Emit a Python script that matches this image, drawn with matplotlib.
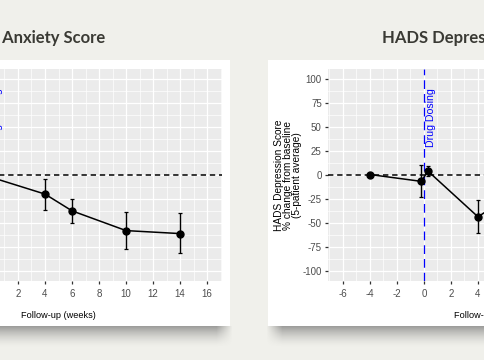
import numpy as np
import matplotlib
matplotlib.use("Agg")
import matplotlib.pyplot as plt
from matplotlib.patches import Rectangle
from matplotlib.ticker import MultipleLocator

plt.rcParams["axes.unicode_minus"] = False

# data (points outside the crop are estimates)
weeks = [-4, -0.2, 0.3, 4, 6, 10, 14]
anx_mean = [0.0, -2.0, -3.6, -19.8, -37.2, -57.7, -60.8]
anx_low = [-2.0, -12.0, -8.0, -36.5, -49.4, -76.4, -80.9]
anx_high = [2.0, 8.0, 1.0, -3.9, -24.7, -38.9, -39.6]

dep_mean = [0.5, -6.6, 4.0, -43.4, -25.0, -30.0, -35.0]
dep_low = [-1.5, -22.6, -1.0, -60.1, -40.0, -45.0, -50.0]
dep_high = [2.0, 10.7, 9.5, -26.4, -10.0, -15.0, -20.0]

x_ticks = [-6, -4, -2, 0, 2, 4, 6, 8, 10, 12, 14, 16]
y_ticks = [-100, -75, -50, -25, 0, 25, 50, 75, 100]

W, H = 485, 360
BG = "#f0f0eb"
FONT = "Liberation Sans"
fig = plt.figure(figsize=(W / 100, H / 100), dpi=100)
fig.patch.set_facecolor(BG)

# slide background, cards and shadows (pixel coords)
bg = fig.add_axes([0, 0, 1, 1], zorder=-5)
bg.axis("off")


def shadow(x0, x1, top):
    n = 22
    t = np.linspace(0, 1, n)
    v = 0.55 * (1 - t) ** 1.6
    xs = np.arange(int(x0), int(x1))
    h = np.clip(np.minimum(xs - x0, x1 - xs) / 16.0, 0, 1)
    img = np.zeros((n, len(xs), 4))
    img[..., 0:3] = 0.35
    img[..., 3] = v[:, None] * h[None, :]
    bg.imshow(img, extent=(x0, x1, top + n, top), aspect="auto",
              interpolation="bilinear", zorder=1)


shadow(-160, 232, 326)
shadow(266, 700, 326)
bg.add_patch(Rectangle((-170, 60), 400, 266, facecolor="white", edgecolor="none", zorder=2))
bg.add_patch(Rectangle((268, 60), 432, 266, facecolor="white", edgecolor="none", zorder=2))
bg.set_xlim(0, W)
bg.set_ylim(H, 0)

fig.text(105 / W, 1 - 38 / H, "HADS Anxiety Score", ha="right", va="center",
         fontsize=12, fontweight="bold", family="Lato", color="#3a3a34")
fig.text(382 / W, 1 - 38 / H, "HADS Depression Score", ha="left", va="center",
         fontsize=12, fontweight="bold", family="Lato", color="#3a3a34")


def panel(left_px, mean, low, high, ylabel):
    ax = fig.add_axes([left_px / W, (H - 281) / H, 327 / W, 212 / H])
    ax.set_facecolor("#ebebeb")
    ax.set_xlim(-7.1, 17.1)
    ax.set_ylim(-110, 110)
    ax.set_xticks(x_ticks)
    ax.set_yticks(y_ticks)
    ax.xaxis.set_minor_locator(MultipleLocator(1))
    ax.yaxis.set_minor_locator(MultipleLocator(12.5))
    ax.grid(which="major", color="white", lw=0.9)
    ax.grid(which="minor", color="white", lw=0.5)
    ax.set_axisbelow(True)
    for s in ax.spines.values():
        s.set_visible(False)
    ax.tick_params(which="major", length=2.5, width=0.9, color="#333333",
                   labelsize=7, labelcolor="#4d4d4d")
    ax.tick_params(axis="y", pad=2)
    ax.tick_params(axis="x", pad=3)
    ax.tick_params(which="minor", length=0)
    for lab in ax.get_xticklabels() + ax.get_yticklabels():
        lab.set_family(FONT)
    ax.axhline(0, color="black", lw=1.1, ls=(0, (3.5, 2.5)), zorder=2)
    ax.axvline(0, color="#0000ff", lw=0.9, ls=(0, (7, 4)), zorder=2)
    ax.text(0.55, 60, "Drug Dosing", rotation=90, ha="center", va="center",
            fontsize=7.6, color="#0000ff", family=FONT)
    m = np.array(mean)
    err = [m - np.array(low), np.array(high) - m]
    ax.errorbar(weeks, m, yerr=err, color="black", lw=1.1, elinewidth=1.0,
                capsize=1.5, capthick=0.9, marker="o", markersize=5, zorder=3)
    ax.set_xlabel("Follow-up (weeks)", fontsize=6.6, family=FONT, color="black")
    ax.xaxis.set_label_coords(0.5, -(311.5 - 281) / 212)
    ax.set_ylabel(ylabel, fontsize=7.3, family=FONT, color="black",
                  linespacing=0.85, va="center")
    ax.yaxis.set_label_coords(-(328 - 288) / 327, 0.5)
    return ax


panel(-105, anx_mean, anx_low, anx_high,
      "HADS Anxiety Score\n% change from baseline\n(5-patient average)")
panel(328, dep_mean, dep_low, dep_high,
      "HADS Depression Score\n% change from baseline\n(5-patient average)")

fig.savefig("out.png", dpi=100, facecolor=BG)
